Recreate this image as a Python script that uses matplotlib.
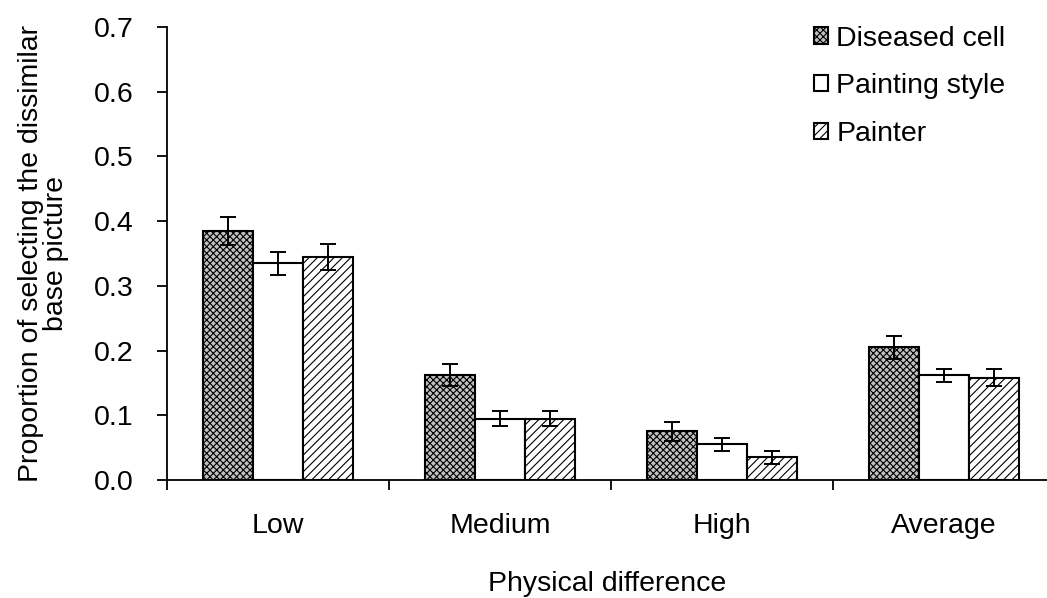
import matplotlib
matplotlib.use("Agg")
import matplotlib.pyplot as plt
import numpy as np

plt.rcParams['font.family'] = ['Liberation Sans', 'DejaVu Sans']
plt.rcParams['hatch.linewidth'] = 0.8

categories = ["Low", "Medium", "High", "Average"]
series = ["Diseased cell", "Painting style", "Painter"]
diseased = [0.385, 0.162, 0.075, 0.205]
painting = [0.335, 0.095, 0.055, 0.162]
painter = [0.345, 0.095, 0.035, 0.158]
err_diseased = [0.022, 0.017, 0.015, 0.018]
err_painting = [0.018, 0.012, 0.010, 0.010]
err_painter = [0.020, 0.011, 0.010, 0.013]

fig = plt.figure(figsize=(10.47, 5.98), dpi=100)
ax = fig.add_axes([167/1047, 118/598, 880/1047, 453/598])

x = np.arange(len(categories))
w = 0.225
styles = [dict(facecolor='#c0c0c0', hatch='xxxxx'),
          dict(facecolor='white', hatch=''),
          dict(facecolor='white', hatch='////')]
vals = [diseased, painting, painter]
errs = [err_diseased, err_painting, err_painter]
for i in range(3):
    ax.bar(x + (i - 1) * w, vals[i], w, yerr=errs[i], edgecolor='black',
           linewidth=1.5, label=series[i], capsize=6,
           error_kw=dict(elinewidth=1.4, capthick=1.4, ecolor='black'),
           **styles[i])

fs = 20.5
ax.set_xlim(-0.5, -0.5 + 880/222)
ax.set_ylim(0, 0.7)
ax.set_yticks(np.arange(0, 0.71, 0.1))
ax.set_yticklabels([f"{v:.1f}" for v in np.arange(0, 0.71, 0.1)])
ax.set_xticks(x)
ax.set_xticklabels(categories)
ax.set_xticks(np.arange(-0.5, 3.5, 1), minor=True)
ax.tick_params(axis='x', which='major', length=0, pad=24, labelsize=fs)
ax.tick_params(axis='x', which='minor', length=7, width=1.3, direction='out')
ax.tick_params(axis='y', length=7, width=1.3, direction='out', labelsize=fs, pad=17)
for s in ['top', 'right']:
    ax.spines[s].set_visible(False)
ax.spines['left'].set_linewidth(1.3)
ax.spines['bottom'].set_linewidth(1.3)

ax.set_xlabel("Physical difference", fontsize=fs, labelpad=23)
ax.set_ylabel("Proportion of selecting the dissimilar\nbase picture", fontsize=fs,
              labelpad=18, linespacing=0.95)

ax.legend(loc='upper left', bbox_to_anchor=(808/1047, 1 - 20/598),
          bbox_transform=fig.transFigure, frameon=False, fontsize=fs,
          handlelength=0.5, handleheight=0.5, handletextpad=0.3,
          labelspacing=0.76, borderaxespad=0, borderpad=0.2)

fig.savefig("out.png", dpi=100)
